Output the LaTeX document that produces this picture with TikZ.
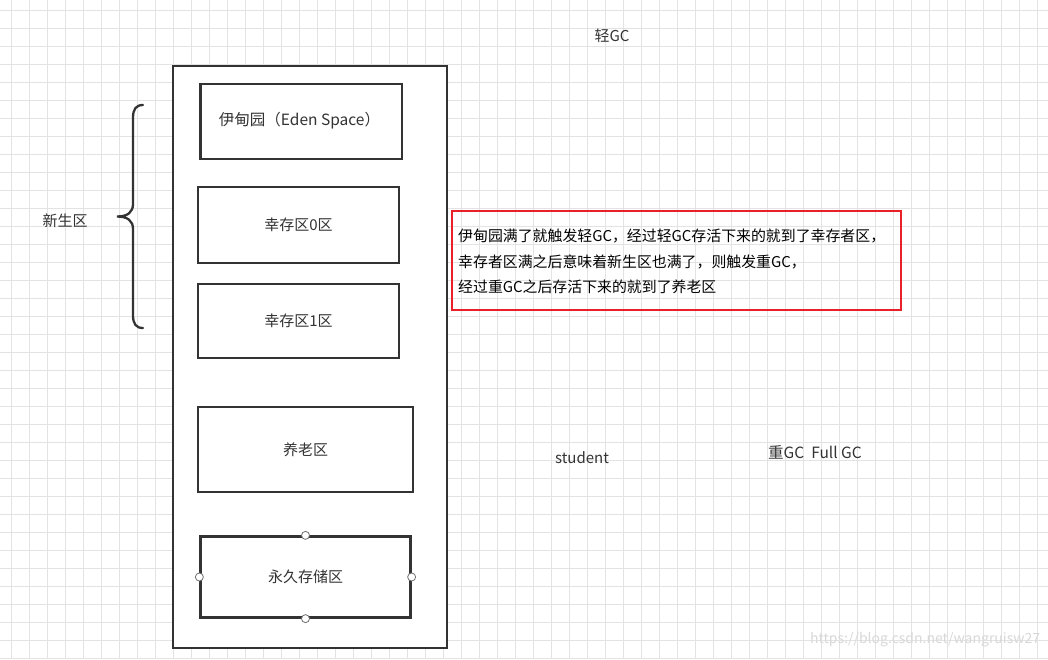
\documentclass[tikz,border=0pt]{standalone}
\usepackage{fontspec}
\setmainfont{Noto Sans CJK SC}
\definecolor{gridc}{HTML}{E3E3E3}
\definecolor{edge}{HTML}{333333}
\definecolor{txt}{HTML}{333333}
\definecolor{redc}{HTML}{E8202A}
\definecolor{wm}{HTML}{D8D8D8}
\tikzset{
  region/.style={draw=edge, line width=2.3pt, fill=white, text=txt, font=\fontsize{15}{18}\selectfont, inner sep=0pt},
  lbl/.style={text=txt, font=\fontsize{15}{18}\selectfont, inner sep=0pt},
  handle/.style={circle, draw=edge!70, fill=white, line width=0.8pt, minimum size=8pt, inner sep=0pt},
}
\begin{document}
\begin{tikzpicture}[x=1pt, y=-1pt]
\useasboundingbox (0,0) rectangle (1048,659);
\fill[white] (0,0) rectangle (1048,659);
% grid
\foreach \i in {0,...,57} {
  \draw[gridc, line width=0.8pt] (11.7+18*\i,0) -- (11.7+18*\i,659);
}
\foreach \j in {0,...,36} {
  \draw[gridc, line width=0.8pt] (0,10+18*\j) -- (1048,10+18*\j);
}
% outer box
\node[region, line width=2.6pt, minimum width=274pt, minimum height=582pt] (heap) at (310,357) {};
% inner regions
\node[region, minimum width=201.5pt, minimum height=75pt] (eden) at (301.25,121.5) {};
\node[lbl, font=\fontsize{15.5}{18}\selectfont] (edentxt) at (299.5,121) {伊甸园（Eden Space）};
\node[region, minimum width=201pt, minimum height=76pt] (s0) at (298.5,225) {幸存区0区};
\node[region, minimum width=201pt, minimum height=74pt] (s1) at (298.5,321) {幸存区1区};
\node[region, minimum width=215pt, minimum height=85pt] (old) at (305.5,449.5) {养老区};
\node[region, minimum width=210pt, minimum height=81pt] (perm) at (305.5,577) {永久存储区};
\node[handle] (h1) at (perm.north) {};
\node[handle] (h2) at (perm.south) {};
\node[handle] (h3) at (perm.west) {};
\node[handle] (h4) at (perm.east) {};
% brace
\draw[edge, line width=2.3pt, line cap=round]
  (143,105) .. controls (136,105) and (133,109) .. (133,118) -- (133,204)
  .. controls (133,212) and (128,216.5) .. (117,216.5)
  .. controls (128,216.5) and (133,221) .. (133,229) -- (133,315)
  .. controls (133,324) and (136,328) .. (143,328);
\node[lbl] (young) at (65,221) {新生区};
% red note
\node[draw=redc, line width=2.4pt, minimum width=449pt, minimum height=99pt, inner sep=0pt] (note) at (676.5,260.5) {};
\node[anchor=west, align=left, inner sep=0pt, font=\fontsize{14.9}{25.5}\selectfont, text=black] (notetxt) at (458,261.5)
 {伊甸园满了就触发轻GC，经过轻GC存活下来的就到了幸存者区，\\幸存者区满之后意味着新生区也满了，则触发重GC，\\经过重GC之后存活下来的就到了养老区};
% free labels
\node[lbl] (minor) at (612,36) {轻GC};
\node[lbl] (student) at (582,458) {student};
\node[lbl, font=\fontsize{15.5}{18}\selectfont] (major) at (815,452) {重GC\ \ Full GC};
% watermark
\node[anchor=west, inner sep=0pt, text=wm, font=\fontsize{14}{16}\selectfont] (wmark) at (810,640) {https://blog.csdn.net/wangruisw27};
\end{tikzpicture}
\end{document}
